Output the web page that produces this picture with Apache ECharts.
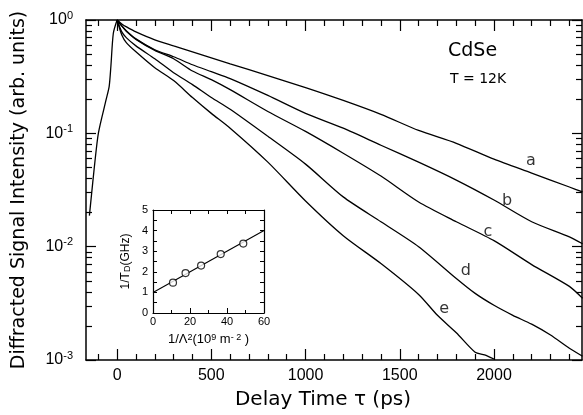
<!DOCTYPE html>
<html><head><meta charset="utf-8">
<script src="https://cdn.jsdelivr.net/npm/echarts@6/dist/echarts.min.js"></script>
<style>html,body{margin:0;padding:0;background:#fff}#c{width:583px;height:415px}</style>
</head><body><div id="c"></div>
<script>
// ---- main plot data (delay time in ps, intensity in arb. units) ----
const risePs  = [-147, -138, -120, -99, -58, -42, -33, -20, 0];
const riseVal = [0.0188, 0.0264, 0.0517, 0.101, 0.199, 0.260, 0.389, 0.764, 1.0];

const abcPs  = [0, 25, 50, 100, 200, 300, 400, 500, 600, 800, 1000, 1200, 1400, 1600, 1800, 2000, 2200, 2400, 2470];
const curveA = [1.0, 0.923, 0.869, 0.785, 0.668, 0.591, 0.524, 0.464, 0.411, 0.323, 0.253, 0.195, 0.147, 0.106, 0.0817, 0.0591, 0.0446, 0.0336, 0.0304];
const curveB = [1.0, 0.886, 0.801, 0.681, 0.546, 0.474, 0.403, 0.350, 0.304, 0.216, 0.150, 0.111, 0.0785, 0.0557, 0.0387, 0.0258, 0.0166, 0.0122, 0.0106];
const curveC = [1.0, 0.886, 0.790, 0.675, 0.540, 0.455, 0.355, 0.298, 0.243, 0.156, 0.104, 0.0668, 0.0420, 0.0248, 0.0166, 0.0113, 0.00695, 0.00446, 0.00350];

const dPs    = [0, 25, 50, 100, 200, 300, 400, 500, 600, 800, 1000, 1200, 1400, 1600, 1800, 1900, 2000, 2100, 2200, 2300, 2400, 2470];
const curveD = [1.0, 0.785, 0.695, 0.591, 0.455, 0.343, 0.269, 0.207, 0.163, 0.0941, 0.0535, 0.0275, 0.0166, 0.0100, 0.00524, 0.00387, 0.00304, 0.00248, 0.00207, 0.00166, 0.00127, 0.00108];

const ePs    = [0, 25, 50, 100, 200, 300, 400, 500, 600, 800, 1000, 1200, 1400, 1600, 1700, 1800, 1900, 1950, 2000];
const curveE = [1.0, 0.738, 0.629, 0.524, 0.379, 0.292, 0.207, 0.150, 0.111, 0.0557, 0.0253, 0.0125, 0.00710, 0.00379, 0.00248, 0.00174, 0.00117, 0.00111, 0.00102];

// curve letter labels: [name, ps, value]
const curveLabels = [['a', 2196, 0.0568], ['b', 2069, 0.0253], ['c', 1968, 0.01355], ['d', 1851, 0.00616], ['e', 1735, 0.0028]];

// ---- ticks ----
const xMajorTicks = [0, 500, 1000, 1500, 2000];
const xMinorTicks = [-100, 100, 200, 300, 400, 600, 700, 800, 900, 1100, 1200, 1300, 1400, 1600, 1700, 1800, 1900, 2100, 2200, 2300, 2400];
const yDecades = [0.001, 0.01, 0.1, 1];
const yDecadeExp = ['-3', '-2', '-1', '0'];
const yMinorTicks = [0.002, 0.003, 0.004, 0.005, 0.006, 0.007, 0.008, 0.009,
                     0.02, 0.03, 0.04, 0.05, 0.06, 0.07, 0.08, 0.09,
                     0.2, 0.3, 0.4, 0.5, 0.6, 0.7, 0.8, 0.9];

// ---- inset data ----
const insetX = [10.8, 17.6, 26.0, 36.6, 48.8];
const insetY = [1.47, 1.94, 2.30, 2.86, 3.37];
const fitX = [0, 60];
const fitY = [1.0, 4.0];
const insetXLabels = [0, 20, 40, 60];
const insetXMinor = [10, 30, 50];
const insetXAll = [0, 10, 20, 30, 40, 50, 60];
const insetYLabels = [0, 1, 2, 3, 4, 5];
const insetYTicks = [0.5, 1, 1.5, 2, 2.5, 3, 3.5, 4, 4.5];

const zip = (xs, ys) => xs.map((x, i) => [x, ys[i]]);
const FONT = 'Liberation Sans';
const TFONT = 'DejaVu Sans';
const BLACK = '#000';

function xAx(opts) {
  return Object.assign({
    type: 'value', gridIndex: 0, min: -165, max: 2467,
    splitLine: { show: false },
    axisLine: { show: false, onZero: false },
    axisLabel: { show: false },
    axisTick: { show: true, inside: true, lineStyle: { color: BLACK, width: 1.2 } }
  }, opts);
}
function yAx(opts) {
  return Object.assign({
    type: 'log', logBase: 10, gridIndex: 0, min: 0.001, max: 1,
    splitLine: { show: false },
    axisLine: { show: false, onZero: false },
    axisLabel: { show: false },
    axisTick: { show: true, inside: true, lineStyle: { color: BLACK, width: 1.2 } }
  }, opts);
}
const line15 = { show: true, onZero: false, lineStyle: { color: BLACK, width: 1.5 } };
const line12 = { show: true, onZero: false, lineStyle: { color: BLACK, width: 1.2 } };

const lineStyle = { color: BLACK, width: 1.3 };
function curve(name, xs, ys) {
  return { name, type: 'line', xAxisIndex: 0, yAxisIndex: 0, data: zip(xs, ys),
    showSymbol: false, smooth: 0.25, lineStyle, silent: true, animation: false };
}

const chart = echarts.init(document.getElementById('c'), null, { renderer: 'canvas' });
chart.setOption({
  animation: false,
  backgroundColor: '#fff',
  textStyle: { fontFamily: FONT, color: BLACK },
  grid: [
    { left: 86, top: 20, width: 496, height: 342, show: false },
    { left: 153, top: 210, width: 111, height: 103, show: false }
  ],
  xAxis: [
    xAx({ position: 'bottom', axisLine: line15,
      axisTick: { show: true, inside: true, length: 11, customValues: xMajorTicks, lineStyle: { color: BLACK, width: 1.2 } },
      axisLabel: { show: true, customValues: xMajorTicks, fontSize: 16, color: BLACK, fontFamily: FONT, margin: 8, formatter: v => String(v) },
      name: 'Delay Time τ (ps)', nameLocation: 'middle', nameGap: 30,
      nameTextStyle: { fontSize: 20, color: BLACK, fontFamily: TFONT, padding: [0, 22, 0, 0] } }),
    xAx({ position: 'bottom', axisTick: { show: true, inside: true, length: 6, customValues: xMinorTicks, lineStyle: { color: BLACK, width: 1.2 } } }),
    xAx({ position: 'top', axisLine: line15,
      axisTick: { show: true, inside: true, length: 11, customValues: xMajorTicks, lineStyle: { color: BLACK, width: 1.2 } } }),
    xAx({ position: 'top', axisTick: { show: true, inside: true, length: 6, customValues: xMinorTicks, lineStyle: { color: BLACK, width: 1.2 } } }),
    // inset
    { type: 'value', gridIndex: 1, min: 0, max: 60, position: 'bottom', splitLine: { show: false },
      axisLine: line12,
      axisTick: { show: true, inside: true, length: 5, customValues: insetXLabels, lineStyle: { color: BLACK, width: 1 } },
      axisLabel: { show: true, customValues: insetXLabels, fontSize: 11, color: BLACK, fontFamily: FONT, margin: 3 },
      name: '1/Λ{s|2}(10{s|9} m{s|- 2} )', nameLocation: 'middle', nameGap: 20,
      nameTextStyle: { fontSize: 13, color: BLACK, fontFamily: FONT, rich: { s: { fontSize: 9, verticalAlign: 'top', lineHeight: 9, fontFamily: FONT } } } },
    { type: 'value', gridIndex: 1, min: 0, max: 60, position: 'bottom', splitLine: { show: false },
      axisLine: { show: false, onZero: false }, axisLabel: { show: false },
      axisTick: { show: true, inside: true, length: 3, customValues: insetXMinor, lineStyle: { color: BLACK, width: 1 } } },
    { type: 'value', gridIndex: 1, min: 0, max: 60, position: 'top', splitLine: { show: false },
      axisLine: line12, axisLabel: { show: false },
      axisTick: { show: true, inside: true, length: 4, customValues: insetXAll, lineStyle: { color: BLACK, width: 1 } } }
  ],
  yAxis: [
    yAx({ position: 'left', axisLine: line15,
      axisTick: { show: true, inside: true, length: 10, customValues: yDecades, lineStyle: { color: BLACK, width: 1.2 } },
      axisLabel: { show: true, customValues: yDecades, margin: 13, color: BLACK,
        formatter: v => { const i = yDecades.findIndex(d => Math.abs(Math.log10(d) - Math.log10(v)) < 1e-6); return '{n|10}{s|' + (i >= 0 ? yDecadeExp[i] : '') + '}'; },
        rich: { n: { fontSize: 16, fontFamily: FONT, color: BLACK, lineHeight: 20 },
                s: { fontSize: 11, fontFamily: FONT, color: BLACK, verticalAlign: 'top', lineHeight: 11 } } },
      name: 'Diffracted Signal Intensity (arb. units)', nameLocation: 'middle', nameGap: 57, nameRotate: 90,
      nameTextStyle: { fontSize: 19, color: BLACK, fontFamily: TFONT } }),
    yAx({ position: 'left', axisTick: { show: true, inside: true, length: 6, customValues: yMinorTicks, lineStyle: { color: BLACK, width: 1.2 } } }),
    yAx({ position: 'right', axisLine: line15,
      axisTick: { show: true, inside: true, length: 10, customValues: yDecades, lineStyle: { color: BLACK, width: 1.2 } } }),
    yAx({ position: 'right', axisTick: { show: true, inside: true, length: 6, customValues: yMinorTicks, lineStyle: { color: BLACK, width: 1.2 } } }),
    // inset
    { type: 'value', gridIndex: 1, min: 0, max: 5, position: 'left', splitLine: { show: false },
      axisLine: line12,
      axisTick: { show: true, inside: true, length: 4, customValues: insetYTicks, lineStyle: { color: BLACK, width: 1 } },
      axisLabel: { show: true, customValues: insetYLabels, fontSize: 11, color: BLACK, fontFamily: FONT, margin: 5 },
      name: '1/T{d|D}(GHz)', nameLocation: 'middle', nameGap: 21, nameRotate: 90,
      nameTextStyle: { fontSize: 12, color: BLACK, fontFamily: FONT, rich: { d: { fontSize: 9, verticalAlign: 'bottom', lineHeight: 9, fontFamily: FONT } } } },
    { type: 'value', gridIndex: 1, min: 0, max: 5, position: 'right', splitLine: { show: false },
      axisLine: line12, axisLabel: { show: false },
      axisTick: { show: true, inside: true, length: 4, customValues: insetYTicks, lineStyle: { color: BLACK, width: 1 } } }
  ],
  graphic: [
    { type: 'text', left: 448, top: 42, style: { text: 'CdSe', fontSize: 19, fontFamily: TFONT, fill: BLACK } },
    { type: 'text', left: 450, top: 72, style: { text: 'T = 12K', fontSize: 14, fontFamily: TFONT, fill: BLACK } }
  ],
  series: [
    curve('rise', risePs, riseVal),
    curve('a', abcPs, curveA),
    curve('b', abcPs, curveB),
    curve('c', abcPs, curveC),
    curve('d', dPs, curveD),
    curve('e', ePs, curveE),
    { name: 'labels', type: 'scatter', xAxisIndex: 0, yAxisIndex: 0, symbolSize: 0, silent: true,
      data: curveLabels.map(l => ({ value: [l[1], l[2]], name: l[0] })),
      label: { show: true, position: 'inside', formatter: p => p.name, fontSize: 16, fontFamily: TFONT, color: BLACK } },
    { name: 'fit', type: 'line', xAxisIndex: 4, yAxisIndex: 4, data: zip(fitX, fitY), showSymbol: false,
      lineStyle: { color: BLACK, width: 1.1 }, silent: true },
    { name: 'points', type: 'scatter', xAxisIndex: 4, yAxisIndex: 4, data: zip(insetX, insetY),
      symbol: 'circle', symbolSize: 7, itemStyle: { color: '#fff', borderColor: BLACK, borderWidth: 1.2 }, silent: true, z: 5 }
  ]
});
</script></body></html>
